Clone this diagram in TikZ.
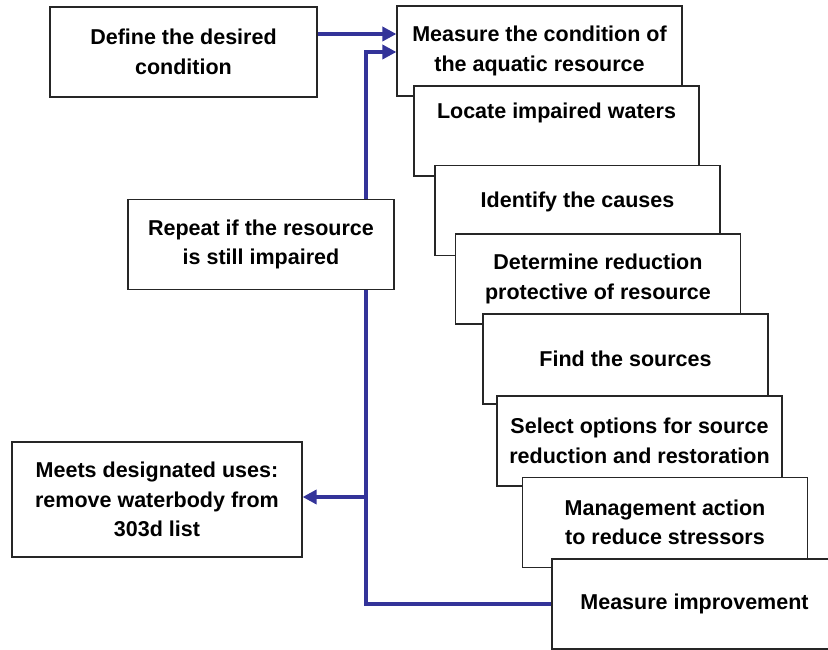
\documentclass[tikz,border=0pt]{standalone}
\usepackage{fontspec}
\setmainfont{Liberation Sans}
\usetikzlibrary{arrows.meta,backgrounds}
\definecolor{loopblue}{RGB}{51,51,153}

\tikzset{
  stepbox/.style={draw=black!85,line width=1.2pt,fill=white,minimum width=285pt,
    minimum height=90pt,inner sep=0pt,align=center,font=\fontsize{21.5}{29.5}\selectfont\bfseries},
  flow/.style={draw=loopblue,line width=4pt,-{Triangle[length=14pt,width=14pt]}}
}

\begin{document}
\begin{tikzpicture}[x=1pt,y=-1pt]
\useasboundingbox (0,0) rectangle (828,650);
\clip (0,0) rectangle (828,650);
\node[stepbox,minimum width=267pt] (define) at (183.5,52) {Define the desired\\condition};
\node[stepbox] (measure) at (539.5,51) {Measure the condition of\\the aquatic resource};
\node[stepbox,text depth=40pt] (locate) at (556.5,131) {Locate impaired waters};
\node[stepbox,text depth=21pt] (identify) at (577.5,210.5) {Identify the causes};
\node[stepbox] (determine) at (598,279) {Determine reduction\\protective of resource};
\node[stepbox] (find) at (625.5,359) {Find the sources};
\node[stepbox] (select) at (639.5,441) {Select options for source\\reduction and restoration};
\node[stepbox] (manage) at (665,522.5) {Management action\\to reduce stressors};
\node[stepbox] (improve) at (694.5,604) {Measure improvement};
\node[stepbox,minimum width=266pt] (repeat) at (261,244.5) {Repeat if the resource\\is still impaired};
\node[stepbox,minimum width=290pt,minimum height=115pt] (meets) at (157,499.5) {Meets designated uses:\\remove waterbody from\\303d list};
\coordinate (top) at (366,52);
\coordinate (branch) at (366,497);
\begin{pgfonlayer}{background}
\draw[flow] ([yshift=18pt]define.east) -- ([yshift=18pt]define.east -| measure.west);
\draw[flow] (improve.west) -| (top) -- (top -| measure.west);
\draw[flow] (branch) -- (branch -| meets.east);
\end{pgfonlayer}
\end{tikzpicture}
\end{document}
